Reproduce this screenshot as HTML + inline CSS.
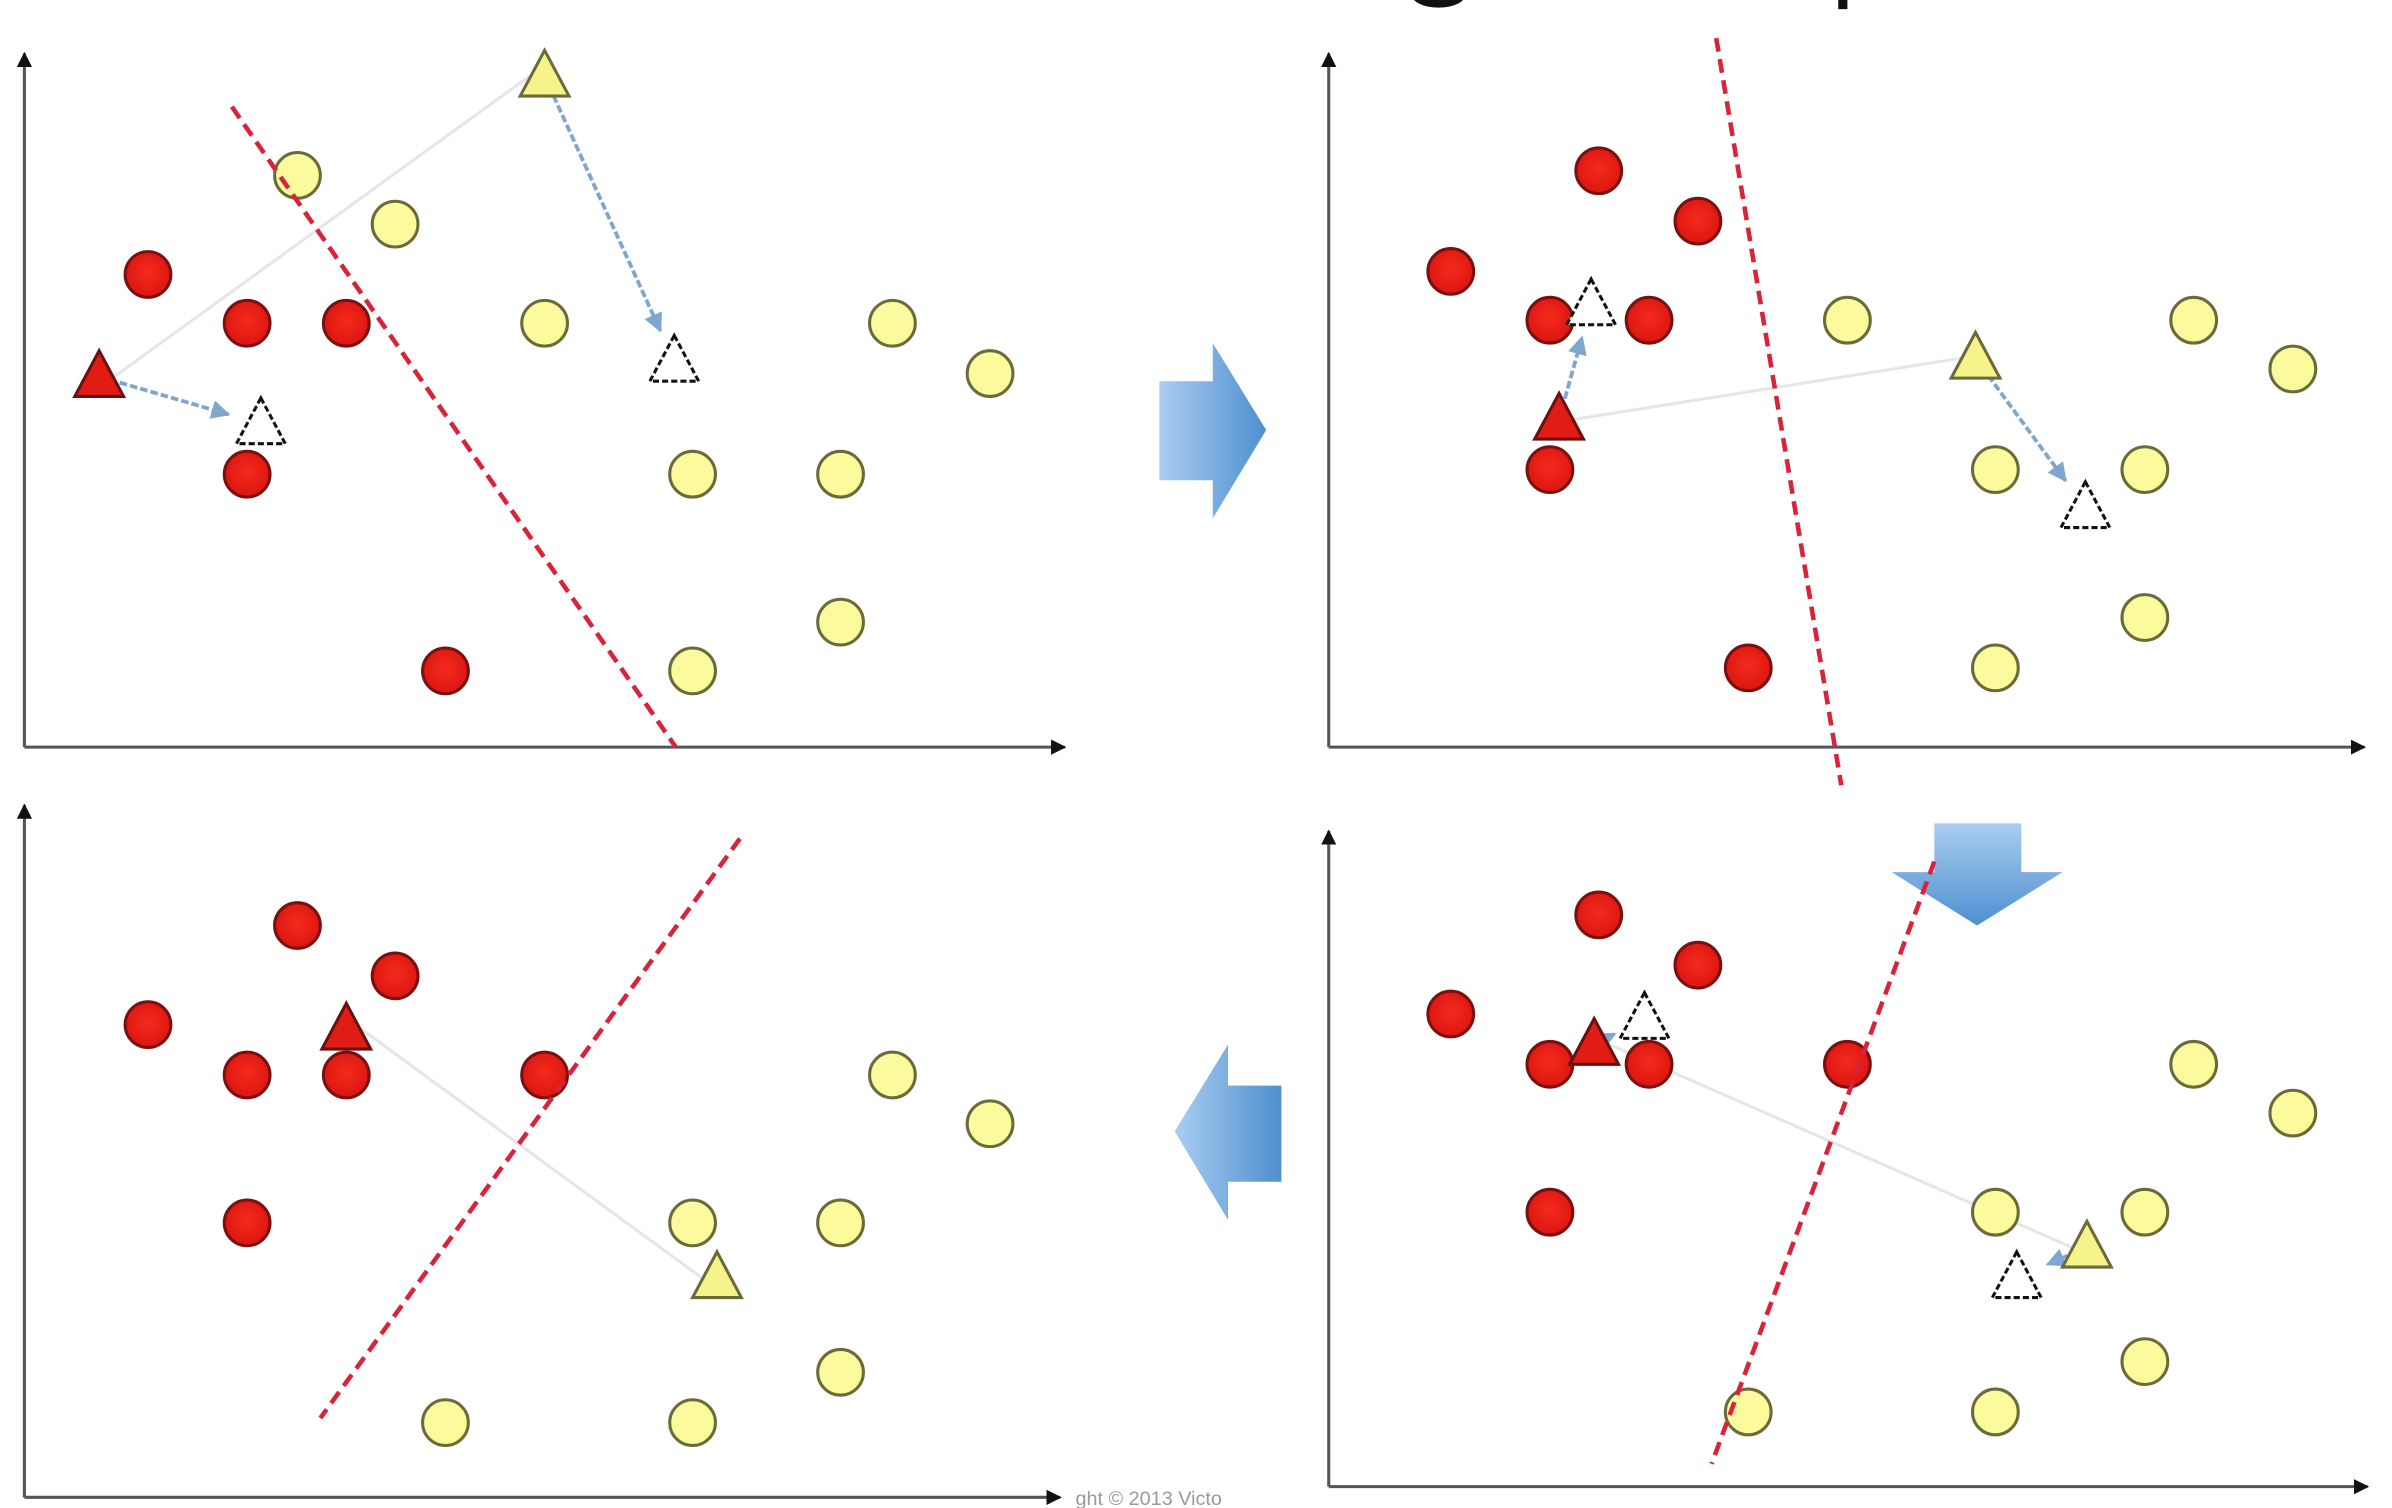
<!DOCTYPE html>
<html><head><meta charset="utf-8">
<style>
html,body{margin:0;padding:0;background:#fff;}
svg{display:block;}
</style></head>
<body>
<svg id="fig" width="2392" height="1508" viewBox="0 0 1568 989" preserveAspectRatio="none" xmlns="http://www.w3.org/2000/svg">
<defs>
<linearGradient id="bg1" x1="0" y1="0" x2="0" y2="1"><stop offset="0" stop-color="#a9cdf0"/><stop offset="1" stop-color="#4f8fd0"/></linearGradient>
<linearGradient id="bg2" x1="0" y1="0" x2="1" y2="0"><stop offset="0" stop-color="#a9cdf0"/><stop offset="1" stop-color="#4f8fd0"/></linearGradient>
<radialGradient id="rg" cx="0.5" cy="0.45" r="0.6"><stop offset="0" stop-color="#f52a1c"/><stop offset="1" stop-color="#d81410"/></radialGradient>
<marker id="ah" viewBox="0 0 10 10" refX="9" refY="5" markerWidth="5" markerHeight="5" orient="auto"><path d="M0,0L10,5L0,10z" fill="#7fa6cf"/></marker>
<marker id="ax" viewBox="0 0 10 10" refX="9" refY="5" markerWidth="5" markerHeight="5" orient="auto"><path d="M0,0L10,5L0,10z" fill="#111"/></marker>
</defs>
<rect width="1568" height="989" fill="#fff"/>
<ellipse cx="943" cy="-4" rx="18" ry="9" fill="#111"/>
<rect x="1205" y="-2" width="6" height="8" fill="#111"/>
<!-- block arrows -->
<path d="M760,250H795V225L830,282L795,340V315H760Z" fill="url(#bg2)"/>
<path d="M1268,540H1325V572H1352L1296,607L1240,572H1268Z" fill="url(#bg1)"/>
<path d="M840,712H805V685L770,742L805,800V775H840Z" fill="url(#bg2)"/>
<text x="705" y="987" font-family="Liberation Sans, sans-serif" font-size="13" fill="#999">ght © 2013 Victo</text>
<g id="panels"></g>
</svg>
<script>
// Panel data (data units relative to each panel's axis origin)
const p1Red = [[81,310],[146,278],[211,278],[146,179],[276,50]];
const p1Yellow = [[179,375],[243,343],[341,278],[569,278],[633,245],[438,179],[535,179],[535,82],[438,50]];
const p1RedOld = [49,243], p1RedNew = [155,212];
const p1YelOld = [341,440], p1YelNew = [426,253];
const p1Boundary = [[136,420],[427,0]];

const p2Red = [[177,378],[242,345],[80,312],[145,280],[210,280],[145,182],[275,52]];
const p2Yellow = [[340,280],[567,280],[632,248],[437,182],[535,182],[535,85],[437,52]];
const p2RedOld = [151,215], p2RedNew = [172,290];
const p2YelOld = [424,255], p2YelNew = [496,157];
const p2Boundary = [[254,465],[336,-25]];

const p3Red = [[179,375],[243,342],[81,310],[146,277],[211,277],[341,277],[146,180]];
const p3Yellow = [[569,277],[633,245],[438,180],[535,180],[535,82],[276,49],[438,49]];
const p3RedOld = [211,307], p3RedNew = null;
const p3YelOld = [454,144], p3YelNew = null;
const p3Boundary = [[469,432],[194,52]];

const p4Red = [[177,375],[242,342],[80,310],[145,277],[210,277],[340,277],[145,180]];
const p4Yellow = [[567,277],[632,245],[437,180],[535,180],[535,82],[275,49],[437,49]];
const p4RedOld = [174,290], p4RedNew = [207,307];
const p4YelOld = [497,157], p4YelNew = [451,137];
const p4Boundary = [[397,410],[251,15]];

const panels = [
 {id:'top-left', ox:16, oy:490, yTop:35, xEnd:698, red:p1Red, yel:p1Yellow, rO:p1RedOld, rN:p1RedNew, yO:p1YelOld, yN:p1YelNew, b:p1Boundary},
 {id:'top-right', ox:871, oy:490, yTop:35, xEnd:1550, red:p2Red, yel:p2Yellow, rO:p2RedOld, rN:p2RedNew, yO:p2YelOld, yN:p2YelNew, b:p2Boundary},
 {id:'bottom-left', ox:16, oy:982, yTop:528, xEnd:695, red:p3Red, yel:p3Yellow, rO:p3RedOld, rN:p3RedNew, yO:p3YelOld, yN:p3YelNew, b:p3Boundary},
 {id:'bottom-right', ox:871, oy:975, yTop:545, xEnd:1552, red:p4Red, yel:p4Yellow, rO:p4RedOld, rN:p4RedNew, yO:p4YelOld, yN:p4YelNew, b:p4Boundary}
];
const NS = 'http://www.w3.org/2000/svg';
const root = document.getElementById('panels');
function mk(tag, attrs, parent){ const e=document.createElementNS(NS,tag); for(const k in attrs) e.setAttribute(k,attrs[k]); parent.appendChild(e); return e; }
function triPts(cx,cy){ return (cx)+','+(cy-17)+' '+(cx-16)+','+(cy+13)+' '+(cx+16)+','+(cy+13); }

panels.forEach(p=>{
  const sx = v=>p.ox+v, sy = v=>p.oy-v;
  const g = mk('g',{},root);
  
  
  const ya = mk('line',{x1:p.ox,y1:p.oy,x2:p.ox,y2:p.yTop,stroke:'#555','stroke-width':2,'marker-end':'url(#ax)'},g);
  
  
  const xa = mk('line',{x1:p.ox,y1:p.oy,x2:p.xEnd,y2:p.oy,stroke:'#555','stroke-width':2,'marker-end':'url(#ax)'},g);
  
  
  // faint link between centroids
  const fl = mk('line',{x1:sx(p.rO[0])+10,y1:sy(p.rO[1]),x2:sx(p.yO[0])-10,y2:sy(p.yO[1]),stroke:'#e6e6ea','stroke-width':2},g);
  
  
  p.red.forEach(d=>{
    const c = mk('circle',{cx:sx(d[0]),cy:sy(d[1]),r:15,fill:'url(#rg)',stroke:'#7a1010','stroke-width':2},g);
    
    
  });
  p.yel.forEach(d=>{
    const c = mk('circle',{cx:sx(d[0]),cy:sy(d[1]),r:15,fill:'#fbfa9c',stroke:'#6b6b3a','stroke-width':2},g);
    
    
  });
  const bl = mk('line',{x1:sx(p.b[0][0]),y1:sy(p.b[0][1]),x2:sx(p.b[1][0]),y2:sy(p.b[1][1]),stroke:'#d8243a','stroke-width':3,'stroke-dasharray':'9,5'},g);
  
  
  [[p.rO,p.rN,'#e01c14','#6a1010','red'],[p.yO,p.yN,'#f5f38a','#6b6b3a','yellow']].forEach(c=>{
    const o=c[0], n=c[1];
    if(n){
      const dx=sx(n[0])-sx(o[0]), dy=sy(n[1])-sy(o[1]), L=Math.hypot(dx,dy);
      const s=14/L, e=22/L;
      const ar = mk('line',{x1:sx(o[0])+dx*s,y1:sy(o[1])+dy*s,x2:sx(n[0])-dx*e,y2:sy(n[1])-dy*e,stroke:'#7fa6cf','stroke-width':2.5,'stroke-dasharray':'5,2','marker-end':'url(#ah)'},g);
      
      
      const nt = mk('polygon',{points:triPts(sx(n[0]),sy(n[1])),fill:'#fff',stroke:'#111','stroke-width':2,'stroke-dasharray':'4,2'},g);
      
      
    }
    const t = mk('polygon',{points:triPts(sx(o[0]),sy(o[1])),fill:c[2],stroke:c[3],'stroke-width':2},g);
    
    
  });
});
</script>
</body></html>
